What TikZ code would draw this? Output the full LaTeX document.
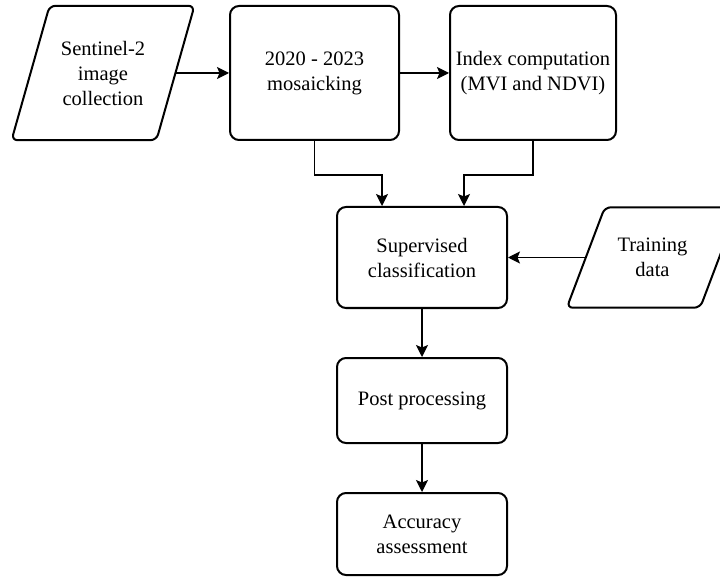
\documentclass[tikz,border=0pt]{standalone}
\usepackage{fontspec}
\setmainfont{Liberation Serif}
\usetikzlibrary{arrows.meta}

\begin{document}
\begin{tikzpicture}[x=1pt,y=-1pt,
  txt/.style={align=center,inner sep=3pt,font=\fontsize{20.5}{25}\selectfont},
  box/.style={txt,draw,line width=2pt,rounded corners=9pt},
  flow/.style={line width=1.3pt,-{Stealth[length=12pt,width=12pt,inset=2.5pt]}}]
\clip (0,0) rectangle (720,577);

% input data (parallelograms)
\node[txt,minimum width=144.5pt,minimum height=134pt] (sen) at (103,73) {Sentinel-2\\image\\collection};
\draw[line width=2pt,rounded corners=6pt] ([xshift=19pt]sen.north west) -- ([xshift=19pt]sen.north east) -- ([xshift=-19pt]sen.south east) -- ([xshift=-19pt]sen.south west) -- cycle;
\node[txt,minimum width=133pt,minimum height=100pt] (trn) at (652.5,257.5) {Training\\data};
\draw[line width=2pt,rounded corners=6pt] ([xshift=19pt]trn.north west) -- ([xshift=19pt]trn.north east) -- ([xshift=-19pt]trn.south east) -- ([xshift=-19pt]trn.south west) -- cycle;

% processing steps
\node[box,minimum width=169pt,minimum height=134pt] (mos) at (314.5,73) {2020 - 2023\\mosaicking};
\node[box,minimum width=166pt,minimum height=134pt] (idx) at (533,73) {Index computation\\(MVI and NDVI)};
\node[box,minimum width=170pt,minimum height=101pt] (cls) at (422,257.5) {Supervised\\classification};
\node[box,minimum width=170pt,minimum height=85pt] (post) at (422,400.5) {Post processing};
\node[box,minimum width=170pt,minimum height=82pt] (acc) at (422,534) {Accuracy\\assessment};

\draw[flow] (sen.east) -- (mos.west);
\draw[flow] (mos.east) -- (idx.west);
\draw[flow] (mos.south) -- ++(0,34) -| ([xshift=-40pt]cls.north);
\draw[flow] (idx.south) -- ++(0,34) -| ([xshift=42pt]cls.north);
\draw[flow] (trn.west) -- (cls.east);
\draw[flow] (cls.south) -- (post.north);
\draw[flow] (post.south) -- (acc.north);
\end{tikzpicture}
\end{document}
